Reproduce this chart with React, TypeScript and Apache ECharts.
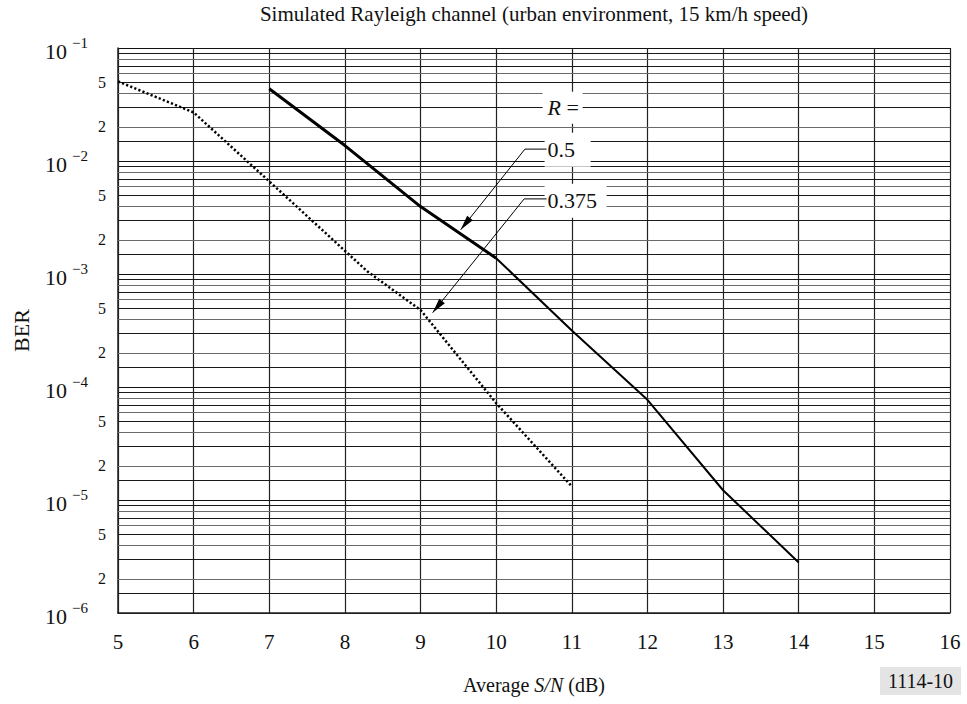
import React, { useEffect, useRef } from "react";
import * as echarts from "echarts";

const SERIF = '"Liberation Serif", "Times New Roman", Times, serif';
const INK = "#111";

// Code rate R = 0.375 (dotted curve): average S/N in dB and BER
const snrR0375 = [5, 6, 7, 8.3, 9, 10, 11];
const berR0375 = [0.0506, 0.0269, 0.0066, 0.00105, 0.00048, 0.000072, 0.0000132];

// Code rate R = 0.5 (solid curve)
const snrR05 = [7, 8, 9, 10, 11, 12, 13, 14];
const berR05 = [0.0436, 0.0137, 0.00395, 0.00138, 0.000316, 0.000077, 0.0000122, 0.0000028];

// Decade ticks of the BER axis, the lower bound of each decade, and the sub-decade grid steps
const decadeTicks = [1e-1, 1e-2, 1e-3, 1e-4, 1e-5, 1e-6];
const decadeBases = [1e-6, 1e-5, 1e-4, 1e-3, 1e-2];
const minorSteps = [1.5, 2, 3, 4, 5, 6, 7, 8, 9];
const labelledSteps = [2, 5];

const titleText = "Simulated Rayleigh channel (urban environment, 15 km/h speed)";
const figureId = "1114-10";

// Rate labels with their leader arrows, in data coordinates
const rateNotes = [
  { text: "0.5", at: [10.68, 0.01257], corner: [10.38, 0.01274], tip: [9.53, 0.00246], boxW: 46 },
  { text: "0.375", at: [10.68, 0.00444], corner: [10.37, 0.00462], tip: [9.16, 0.000455], boxW: 62 },
];
const rateHeader = { at: [10.68, 0.0296] };

const thickEnd = snrR05.indexOf(10);

export default function App() {
  const ref = useRef<HTMLDivElement>(null);

  useEffect(() => {
    if (!ref.current) return;
    const chart = echarts.init(ref.current, undefined, { renderer: "svg" });

    const pairs = (xs: number[], ys: number[]) => xs.map((x, i) => [x, ys[i]]);
    const r05 = pairs(snrR05, berR05);

    chart.setOption({
      animation: false,
      grid: { left: 118, right: 17, top: 48, bottom: 91 },
      xAxis: {
        type: "value",
        min: 5,
        max: 16,
        interval: 1,
        axisLine: { show: true, lineStyle: { color: "#222", width: 1.5 } },
        axisTick: { show: false },
        axisLabel: { fontSize: 21, fontFamily: SERIF, color: INK, margin: 18 },
        splitLine: { show: true, lineStyle: { color: "#222", width: 1.2 } },
        name: "Average {i|S/N} (dB)",
        nameLocation: "middle",
        nameGap: 62,
        nameTextStyle: {
          fontSize: 20,
          fontFamily: SERIF,
          color: INK,
          rich: { i: { fontSize: 20, fontFamily: SERIF, fontStyle: "italic", color: INK } },
        },
      },
      yAxis: {
        type: "log",
        logBase: 10,
        min: 1e-6,
        max: 1e-1,
        splitNumber: 5,
        axisLine: { show: true, lineStyle: { color: "#222", width: 1.5 } },
        axisTick: { show: false },
        splitLine: { show: true, lineStyle: { color: "#111", width: 1 } },
        axisLabel: { show: false },
        name: "BER",
        nameLocation: "middle",
        nameGap: 86,
        nameRotate: 90,
        nameTextStyle: { fontSize: 22, fontFamily: SERIF, color: INK },
      },
      series: [
        {
          name: "R = 0.375",
          type: "line",
          data: pairs(snrR0375, berR0375),
          symbol: "none",
          z: 3,
          lineStyle: { color: "#000", width: 2.5, type: [2.2, 2.2] },
        },
        {
          name: "R = 0.5",
          type: "line",
          data: r05.slice(0, thickEnd + 1),
          symbol: "none",
          z: 3,
          lineStyle: { color: "#000", width: 3 },
        },
        {
          name: "R = 0.5",
          type: "line",
          data: r05.slice(thickEnd),
          symbol: "none",
          z: 3,
          lineStyle: { color: "#000", width: 2 },
        },
      ],
    });

    const toPx = (x: number, y: number) =>
      chart.convertToPixel({ gridIndex: 0 }, [x, y]) as number[];

    const elements: any[] = [];
    const textStyle = (text: string, size: number, align: string, rich?: any) => ({
      text,
      fontSize: size,
      fontFamily: SERIF,
      fill: INK,
      textAlign: align,
      align,
      textVerticalAlign: "middle",
      verticalAlign: "middle",
      ...(rich ? { rich } : {}),
    });

    const xLeft = toPx(5, 1e-1)[0];
    const xRight = toPx(16, 1e-1)[0];

    // Sub-decade grid lines and their 2 / 5 labels on the BER axis
    decadeBases.forEach((base) => {
      minorSteps.forEach((step, k) => {
        const yRaw = toPx(5, step * base)[1];
        const y = Math.round(yRaw) + 0.5;
        elements.push({
          type: "line",
          z: 1,
          silent: true,
          shape: { x1: xLeft, y1: y, x2: xRight, y2: y },
          style: { stroke: k % 2 === 0 ? "#1a1a1a" : "#6a6a6a", lineWidth: 1 },
        });
        if (labelledSteps.includes(step)) {
          elements.push({
            type: "text",
            x: xLeft - 12,
            y: yRaw,
            z: 60,
            style: textStyle(String(step), 16, "right"),
          });
        }
      });
    });

    // Decade labels: 10 with a superscript exponent
    decadeTicks.forEach((v) => {
      const y = toPx(5, v)[1];
      const e = Math.round(Math.log10(v));
      elements.push({
        type: "text",
        x: xLeft - 51,
        y: y + 3,
        z: 60,
        style: textStyle("10", 22, "right"),
      });
      elements.push({
        type: "text",
        x: xLeft - 46,
        y: y - 5,
        z: 60,
        style: textStyle(`\u2212${-e}`, 15, "left"),
      });
    });

    // Title centred over the plot
    const topY = toPx(5, 1e-1)[1];
    elements.push({
      type: "text",
      x: (xLeft + xRight) / 2,
      y: topY - 34,
      z: 60,
      style: textStyle(titleText, 21, "center"),
    });

    // "R =" header
    const hp = toPx(rateHeader.at[0], rateHeader.at[1]);
    elements.push({
      type: "rect",
      z: 50,
      shape: { x: hp[0] - 5, y: hp[1] - 16, width: 40, height: 32 },
      style: { fill: "#fff" },
    });
    elements.push({
      type: "text",
      x: hp[0],
      y: hp[1],
      z: 60,
      style: textStyle("{i|R} =", 22, "left", {
        i: { fontSize: 22, fontFamily: SERIF, fontStyle: "italic", fill: INK },
      }),
    });

    rateNotes.forEach((n) => {
      const at = toPx(n.at[0], n.at[1]);
      const corner = toPx(n.corner[0], n.corner[1]);
      const tip = toPx(n.tip[0], n.tip[1]);
      elements.push({
        type: "rect",
        z: 50,
        shape: { x: at[0] - 3, y: at[1] - 17, width: n.boxW, height: 34 },
        style: { fill: "#fff" },
      });
      elements.push({
        type: "polyline",
        z: 55,
        shape: { points: [tip, corner, [at[0] - 1, corner[1]]] },
        style: { stroke: "#000", lineWidth: 1, fill: null },
      });
      const dx = corner[0] - tip[0];
      const dy = corner[1] - tip[1];
      const len = Math.hypot(dx, dy);
      const ux = dx / len;
      const uy = dy / len;
      const L = 15;
      const W = 3.6;
      const bx = tip[0] + ux * L;
      const by = tip[1] + uy * L;
      elements.push({
        type: "polygon",
        z: 56,
        shape: {
          points: [
            tip,
            [bx - uy * W, by + ux * W],
            [bx + uy * W, by - ux * W],
          ],
        },
        style: { fill: "#000" },
      });
      elements.push({
        type: "text",
        x: at[0],
        y: at[1],
        z: 60,
        style: textStyle(n.text, 22, "left"),
      });
    });

    // Figure reference tag, bottom right
    elements.push({
      type: "rect",
      z: 50,
      shape: { x: 880, y: 667, width: 81, height: 28 },
      style: { fill: "#e4e4e4" },
    });
    elements.push({
      type: "text",
      x: 920.5,
      y: 681,
      z: 60,
      style: textStyle(figureId, 20, "center"),
    });

    chart.setOption({ graphic: { elements } });

    return () => chart.dispose();
  }, []);

  return (
    <div
      ref={ref}
      style={{ position: "fixed", left: 0, top: 0, width: 967, height: 704, background: "#fff" }}
    />
  );
}
